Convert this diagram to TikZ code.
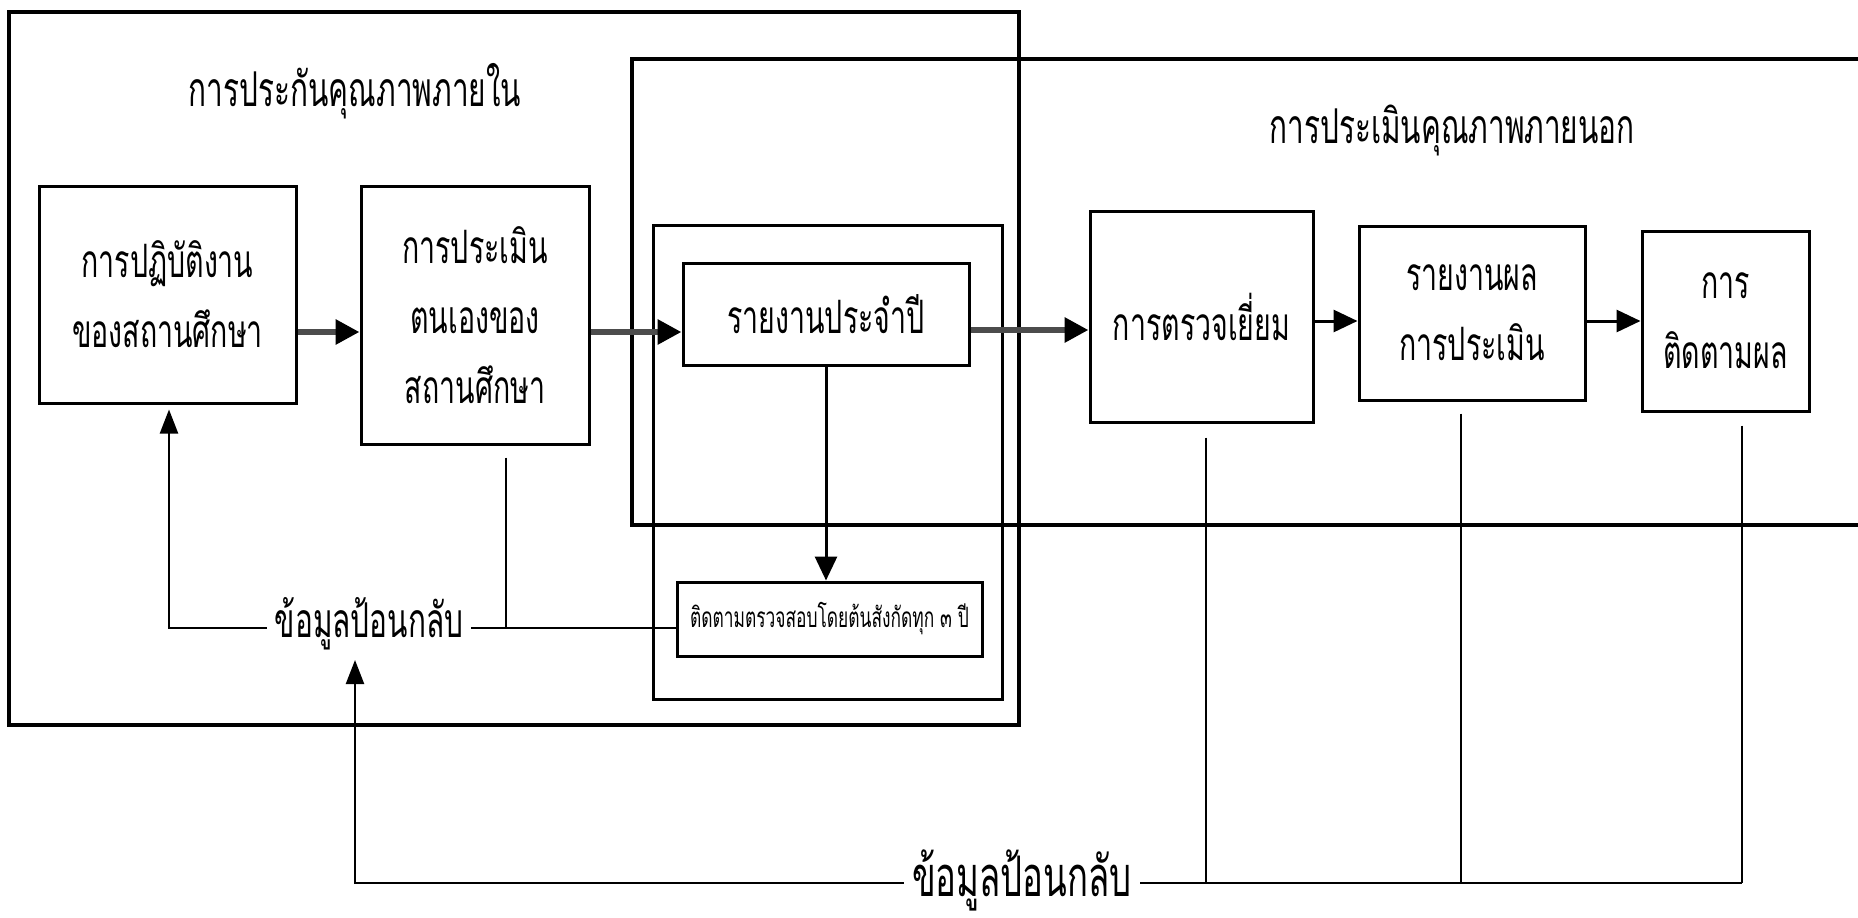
\documentclass[tikz,border=0pt]{standalone}
\usepackage{fontspec}
\newfontfamily\thai[Script=Thai,FakeStretch=0.62]{Loma}
\usetikzlibrary{arrows.meta}
\begin{document}
\begin{tikzpicture}[x=1pt,y=-1pt,
  frame/.style={draw,line width=4pt},
  box/.style={draw,line width=3pt,inner sep=0pt,align=center,font=\thai\fontsize{46}{70}\selectfont},
  ttl/.style={inner sep=0pt,font=\thai\fontsize{48}{60}\selectfont},
  fb/.style={inner xsep=8pt,inner ysep=0pt,font=\thai\fontsize{48}{60}\selectfont},
  flow/.style={line width=6pt,draw=gray!60!black,-{Triangle[length=24pt,width=24pt,color=black]}},
  blk/.style={line width=3pt,-{Triangle[length=24pt,width=22pt]}},
  conn/.style={line width=2.2pt},
  up/.style={line width=2.2pt,-{Triangle[length=24pt,width=18pt]}}]
\useasboundingbox (0,0) rectangle (1858,918);
\clip (0,0) rectangle (1858,918);
\fill[white] (0,0) rectangle (1858,918);
% frames
\draw[frame] (9,12) rectangle (1019,725);
\draw[frame] (632,59) rectangle (1900,525);
\node[ttl] (t1) at (355,91) {การประกันคุณภาพภายใน};
\node[ttl] (t2) at (1452,130) {การประเมินคุณภาพภายนอก};
% boxes
\node[box,minimum width=257pt,minimum height=217pt] (A) at (167.5,294.5) {การปฏิบัติงาน\\ของสถานศึกษา};
\node[box,minimum width=228pt,minimum height=258pt] (B) at (475,315) {การประเมิน\\ตนเองของ\\สถานศึกษา};
\node[draw,line width=3pt,minimum width=349pt,minimum height=474pt,inner sep=0pt] (C) at (827.5,462) {};
\node[box,minimum width=286pt,minimum height=102pt] (R) at (826,314) {รายงานประจำปี};
\node[box,minimum width=305pt,minimum height=74pt,font=\thai\fontsize{28}{32}\selectfont] (S) at (829.5,619) {ติดตามตรวจสอบโดยต้นสังกัดทุก ๓ ปี};
\node[box,minimum width=223pt,minimum height=211pt] (V) at (1201.5,316.5) {การตรวจเยี่ยม};
\node[box,minimum width=226pt,minimum height=174pt] (E) at (1472,313) {รายงานผล\\การประเมิน};
\node[box,minimum width=167pt,minimum height=180pt] (F) at (1725.5,321) {การ\\ติดตามผล};
% feedback labels
\node[fb] (fb1) at (369,624) {ข้อมูลป้อนกลับ};
\node[fb,font=\thai\fontsize{56}{60}\selectfont] (fb2) at (1022,880) {ข้อมูลป้อนกลับ};
% helper coordinates
\coordinate (y1) at (0,332);
\coordinate (y2) at (0,330);
\coordinate (y3) at (0,321);
\coordinate (xb) at (506,0);
\coordinate (xa) at (169,0);
\coordinate (xu) at (355,883);
\coordinate (xv) at (1206,0);
\coordinate (xe) at (1461,0);
\coordinate (xf) at (1742,0);
\coordinate (yb) at (0,883);
\coordinate (yf) at (0,628);
\coordinate (ya) at (0,660);
% flow arrows
\draw[flow] (A.east |- y1) -- (B.west |- y1);
\draw[flow] (B.east |- y1) -- (R.west |- y1);
\draw[flow] (R.east |- y2) -- (V.west |- y2);
\draw[blk] (V.east |- y3) -- (E.west |- y3);
\draw[blk] (E.east |- y3) -- (F.west |- y3);
\draw[blk] (R.south) -- (R.south |- S.north);
% left feedback
\draw[conn] ([yshift=-12pt]B.south -| xb) -- (xb |- yf);
\draw[conn] (fb1.east |- yf) -- (S.west |- yf);
\draw[up] (fb1.west |- yf) -- (xa |- yf) -- ([yshift=-5pt]xa |- A.south);
\draw[up] (fb2.west |- yb) -- (xu) -- (xu |- ya);
% right feedback
\draw[conn] (fb2.east |- yb) -- (xf |- yb);
\draw[conn] ([yshift=-14pt]xv |- V.south) -- (xv |- yb);
\draw[conn] ([yshift=-12pt]xe |- E.south) -- (xe |- yb);
\draw[conn] ([yshift=-13pt]xf |- F.south) -- (xf |- yb);
\end{tikzpicture}
\end{document}
